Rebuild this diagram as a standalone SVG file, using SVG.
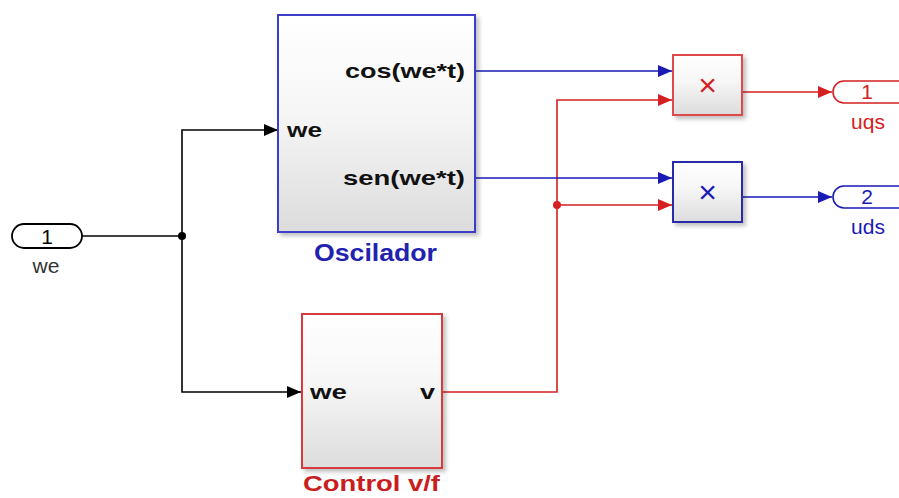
<svg xmlns="http://www.w3.org/2000/svg" width="899" height="498" viewBox="0 0 899 498">
<style>
.blk{stroke-width:2}
.lbl{font-family:"Liberation Sans",Arial,sans-serif;font-weight:bold;fill:#111}
.port{font-family:"Liberation Sans",Arial,sans-serif;font-size:21px}
.c{fill:none;stroke-width:1.6}
.k{stroke:#000}
.b{stroke:#1a1ab4}
.r{stroke:#d42020}
</style>
<defs>
<linearGradient id="g" x1="0" y1="0" x2="0" y2="1">
<stop offset="0" stop-color="#ffffff"/>
<stop offset="0.45" stop-color="#f6f6f6"/>
<stop offset="1" stop-color="#dcdcdc"/>
</linearGradient>
<filter id="sh" x="-10%" y="-10%" width="130%" height="130%">
<feDropShadow dx="3" dy="3" stdDeviation="2" flood-color="#000" flood-opacity="0.25"/>
</filter>
<marker id="ak" viewBox="0 0 14 12" refX="14" refY="6" markerWidth="14" markerHeight="12" markerUnits="userSpaceOnUse" orient="auto"><path d="M0,0L14,6L0,12z" fill="#000"/></marker>
<marker id="ab" viewBox="0 0 14 12" refX="14" refY="6" markerWidth="14" markerHeight="12" markerUnits="userSpaceOnUse" orient="auto"><path d="M0,0L14,6L0,12z" fill="#1a1ab4"/></marker>
<marker id="ar" viewBox="0 0 14 12" refX="14" refY="6" markerWidth="14" markerHeight="12" markerUnits="userSpaceOnUse" orient="auto"><path d="M0,0L14,6L0,12z" fill="#d42020"/></marker>
</defs>
<rect width="899" height="498" fill="#fff"/>

<g id="connectors">
<path class="c k" d="M82,236H182"/>
<path class="c k" d="M182,236V130H278" marker-end="url(#ak)"/>
<path class="c k" d="M182,236V392H301" marker-end="url(#ak)"/>
<circle cx="182" cy="236" r="4" fill="#000"/>
<path class="c r" d="M443,392H557V100H672" marker-end="url(#ar)"/>
<path class="c r" d="M557,205H672" marker-end="url(#ar)"/>
<circle cx="557" cy="205" r="4" fill="#d42020"/>
<path class="c b" d="M476,71H672" marker-end="url(#ab)"/>
<path class="c b" d="M476,178H672" marker-end="url(#ab)"/>
<path class="c r" d="M743,92H832" marker-end="url(#ar)"/>
<path class="c b" d="M743,197H832" marker-end="url(#ab)"/>
</g>

<g id="in_we">
<rect x="12" y="224" width="70" height="24" rx="12" fill="#fff" stroke="#000" stroke-width="1.8"/>
<text class="port" x="47" y="244" text-anchor="middle" fill="#000">1</text>
<text class="port" x="46" y="273" text-anchor="middle" fill="#333">we</text>
</g>

<g id="oscilador">
<rect class="blk" x="278" y="15" width="197" height="217" fill="url(#g)" stroke="#3d3dc8" filter="url(#sh)"/>
<text class="lbl" x="345" y="78" font-size="21" textLength="120" lengthAdjust="spacingAndGlyphs">cos(we*t)</text>
<text class="lbl" x="343" y="185" font-size="21" textLength="122" lengthAdjust="spacingAndGlyphs">sen(we*t)</text>
<text class="lbl" x="287" y="137" font-size="21" textLength="35" lengthAdjust="spacingAndGlyphs">we</text>
<text class="lbl" x="314" y="261" font-size="23" style="fill:#2222b0" textLength="123" lengthAdjust="spacingAndGlyphs">Oscilador</text>
</g>

<g id="control">
<rect class="blk" x="302" y="314" width="140" height="154" fill="url(#g)" stroke="#d83a3a" filter="url(#sh)"/>
<text class="lbl" x="310" y="399" font-size="21" textLength="37" lengthAdjust="spacingAndGlyphs">we</text>
<text class="lbl" x="420" y="399" font-size="21" textLength="15" lengthAdjust="spacingAndGlyphs">v</text>
<text class="lbl" x="303" y="491" font-size="22" style="fill:#c81e1e" textLength="137" lengthAdjust="spacingAndGlyphs">Control v/f</text>
</g>

<g id="prod1">
<rect class="blk" x="673" y="55" width="69" height="60" fill="url(#g)" stroke="#e04848" filter="url(#sh)"/>
<text x="707.5" y="96" text-anchor="middle" font-family="Liberation Sans,Arial,sans-serif" font-size="32" fill="#d42020">×</text>
</g>

<g id="prod2">
<rect class="blk" x="673" y="162" width="69" height="60" fill="url(#g)" stroke="#2a2aa8" filter="url(#sh)"/>
<text x="707.5" y="203" text-anchor="middle" font-family="Liberation Sans,Arial,sans-serif" font-size="32" fill="#1a1ab4">×</text>
</g>

<g id="out_uqs">
<rect x="833" y="81" width="80" height="22" rx="11" fill="#fff" stroke="#d42020" stroke-width="1.6"/>
<text class="port" x="867" y="99" text-anchor="middle" fill="#d42020">1</text>
<text class="port" x="868" y="129" text-anchor="middle" fill="#d42020">uqs</text>
</g>

<g id="out_uds">
<rect x="833" y="186" width="80" height="22" rx="11" fill="#fff" stroke="#1a1ab4" stroke-width="1.6"/>
<text class="port" x="867" y="204" text-anchor="middle" fill="#1a1ab4">2</text>
<text class="port" x="868" y="234" text-anchor="middle" fill="#1a1ab4">uds</text>
</g>
</svg>
